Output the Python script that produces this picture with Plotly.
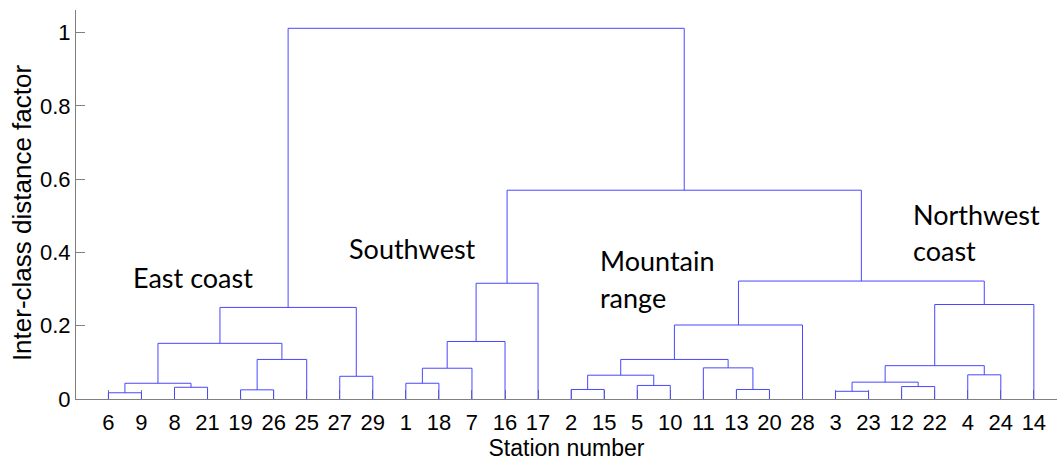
import plotly.graph_objects as go

# Leaf order (station numbers) as shown on the x axis
leaf_labels = ["6", "9", "8", "21", "19", "26", "25", "27", "29",
               "1", "18", "7", "16", "17",
               "2", "15", "5", "10", "11", "13", "20", "28",
               "3", "23", "12", "22", "4", "24", "14"]

# Linkage: leaves are 0..28 (by position); merge k creates node 29+k
merge_left = [0, 2, 29, 4, 32, 31, 7, 34,
              9, 37, 38, 39,
              14, 16, 41, 19, 18, 43, 46,
              22, 24, 48, 26, 50, 52,
              47, 40, 36]
merge_right = [1, 3, 30, 5, 6, 33, 8, 35,
               10, 11, 12, 13,
               15, 17, 42, 20, 44, 45, 21,
               23, 25, 49, 27, 51, 28,
               53, 54, 55]
merge_height = [0.017, 0.032, 0.043, 0.025, 0.108, 0.152, 0.062, 0.250,
                0.043, 0.084, 0.157, 0.316,
                0.026, 0.037, 0.065, 0.026, 0.085, 0.108, 0.202,
                0.021, 0.034, 0.046, 0.066, 0.091, 0.258,
                0.322, 0.570, 1.012]

y_tick_vals = [0, 0.2, 0.4, 0.6, 0.8, 1]
y_tick_text = ["0", "0.2", "0.4", "0.6", "0.8", "1"]

n = len(leaf_labels)
node_x = {i: i + 1 for i in range(n)}
node_h = {i: 0.0 for i in range(n)}
xs, ys = [], []
for k, (a, b, h) in enumerate(zip(merge_left, merge_right, merge_height)):
    xa, xb = node_x[a], node_x[b]
    xs += [xa, xa, xb, xb, None]
    ys += [node_h[a], h, h, node_h[b], None]
    node_x[n + k] = (xa + xb) / 2
    node_h[n + k] = h

fig = go.Figure()
fig.add_trace(go.Scatter(x=xs, y=ys, mode="lines",
                         line=dict(color="#4848ff", width=1),
                         hoverinfo="skip", showlegend=False))

tick_font = dict(family="Liberation Sans, Arial, sans-serif", size=22, color="black")
ann_font = dict(family="Lato, Carlito, sans-serif", size=27, color="black")

annotations = [
    ("East coast", 1.68, 0.333),
    ("Southwest", 8.22, 0.412),
    ("Mountain", 15.82, 0.379),
    ("range", 15.82, 0.276),
    ("Northwest", 25.28, 0.505),
    ("coast", 25.28, 0.405),
]
for txt, ax_, ay_ in annotations:
    fig.add_annotation(x=ax_, y=ay_, xref="x", yref="y", text=txt,
                       showarrow=False, xanchor="left", yanchor="middle",
                       font=ann_font)

# y-axis title as a rotated annotation (lets it sit slightly lower, as in the reference)
fig.add_annotation(x=-0.055, y=0.478, xref="paper", yref="paper",
                   text="Inter-class distance factor", textangle=-90,
                   showarrow=False, xanchor="center", yanchor="middle",
                   font=dict(family="Liberation Sans, Arial, sans-serif", size=26, color="black"))

fig.update_layout(
    width=1057, height=461,
    margin=dict(l=76, r=0, t=10, b=62),
    plot_bgcolor="white", paper_bgcolor="white",
    font=tick_font,
)
fig.update_xaxes(
    range=[0.02, 29.70],
    tickmode="array", tickvals=list(range(1, n + 1)), ticktext=leaf_labels,
    ticks="inside", ticklen=9, tickcolor="#808080",
    showline=True, linecolor="#808080", linewidth=1,
    showgrid=False, zeroline=False, layer="below traces",
    ticklabelstandoff=4,
    title=dict(text="Station number", font=dict(size=23), standoff=3),
    automargin=False,
)
fig.update_yaxes(
    range=[0, 1.062],
    tickmode="array", tickvals=y_tick_vals, ticktext=y_tick_text,
    ticks="inside", ticklen=9, tickcolor="#808080",
    showline=True, linecolor="#808080", linewidth=1,
    showgrid=False, zeroline=False, layer="below traces",
    automargin=False,
)

fig.write_html("out.html")
